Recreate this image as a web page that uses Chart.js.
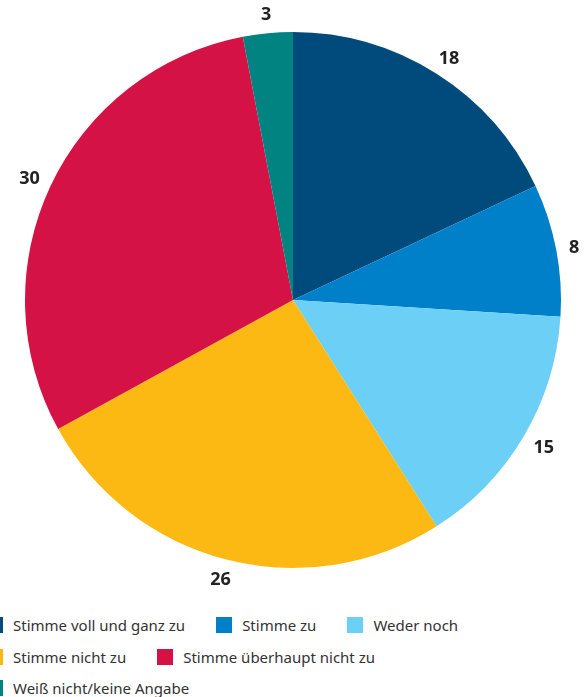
<!DOCTYPE html>
<html>
<head>
<meta charset="utf-8">
<script src="https://cdn.jsdelivr.net/npm/chart.js@4"></script>
<style>
  html, body { margin: 0; padding: 0; background: #fff; }
  body { width: 587px; height: 697px; position: relative; overflow: hidden; font-family: "Noto Sans", sans-serif; }
  #wrap { position: absolute; left: 0; top: 0; width: 587px; height: 600px; }
  #legend { position: absolute; left: -13px; top: 617px; width: 600px; display: flex; flex-direction: column; row-gap: 15.5px; }
  .row { display: flex; column-gap: 31px; height: 16px; }
  .item { display: flex; align-items: center; height: 16px; font-size: 15px; color: #333; white-space: nowrap; }
  .sw { width: 16px; height: 16px; margin-right: 10px; flex: none; }
</style>
</head>
<body>
<div id="wrap"><canvas id="c"></canvas></div>
<div id="legend"></div>
<script>
const categories = ["Stimme voll und ganz zu", "Stimme zu", "Weder noch", "Stimme nicht zu", "Stimme überhaupt nicht zu", "Weiß nicht/keine Angabe"];
const values = [18, 8, 15, 26, 30, 3];
const colors = ["#004B7C", "#0080C9", "#6CCFF6", "#FDB913", "#D51245", "#008381"];
const legendRows = [[0, 1, 2], [3, 4], [5]];

const legendEl = document.getElementById('legend');
legendRows.forEach(row => {
  const r = document.createElement('div');
  r.className = 'row';
  row.forEach(i => {
    const it = document.createElement('div');
    it.className = 'item';
    const sw = document.createElement('span');
    sw.className = 'sw';
    sw.style.background = colors[i];
    const t = document.createElement('span');
    t.textContent = categories[i];
    it.appendChild(sw); it.appendChild(t);
    r.appendChild(it);
  });
  legendEl.appendChild(r);
});

const labelPlugin = {
  id: 'outLabels',
  afterDatasetsDraw(chart) {
    const ctx = chart.ctx;
    const meta = chart.getDatasetMeta(0);
    ctx.save();
    ctx.font = 'bold 18px "Noto Sans", sans-serif';
    ctx.fillStyle = '#222';
    ctx.textAlign = 'center';
    ctx.textBaseline = 'alphabetic';
    const capH = 13;
    meta.data.forEach((arc, i) => {
      const p = arc.getProps(['x', 'y', 'startAngle', 'endAngle', 'outerRadius'], true);
      const mid = (p.startAngle + p.endAngle) / 2;
      const txt = String(values[i]);
      const w = ctx.measureText(txt).width;
      const R = p.outerRadius + 13;
      const cx = p.x + Math.cos(mid) * R + Math.cos(mid) * w / 2;
      const cy = p.y + Math.sin(mid) * R + Math.sin(mid) * capH / 2;
      ctx.fillText(txt, cx, cy + capH / 2);
    });
    ctx.restore();
  }
};

new Chart(document.getElementById('c'), {
  type: 'pie',
  data: {
    labels: categories,
    datasets: [{ data: values, backgroundColor: colors, borderWidth: 0 }]
  },
  options: {
    responsive: true,
    maintainAspectRatio: false,
    animation: false,
    layout: { padding: { left: 25, right: 26, top: 32, bottom: 32 } },
    plugins: { legend: { display: false }, tooltip: { enabled: false } }
  },
  plugins: [labelPlugin]
});
</script>
</body>
</html>
